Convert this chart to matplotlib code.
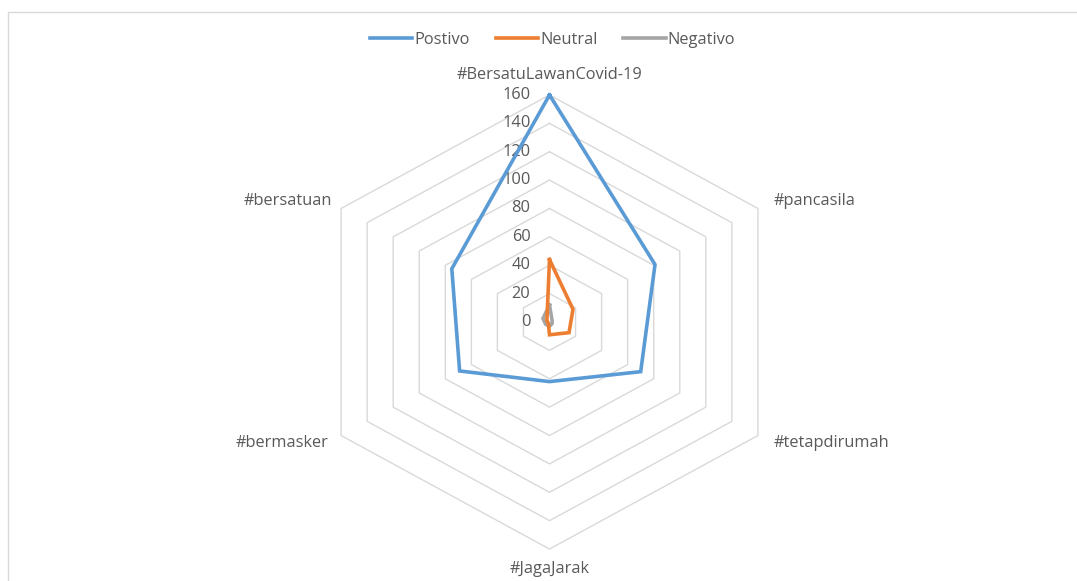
import numpy as np
import matplotlib
matplotlib.use("Agg")
import matplotlib.pyplot as plt
from matplotlib.patches import Rectangle
from matplotlib.lines import Line2D

plt.rcParams["font.family"] = ["Open Sans", "DejaVu Sans"]

# ── data ─────────────────────────────────────────────────────────────────────
categories = ["#BersatuLawanCovid-19", "#pancasila", "#tetapdirumah",
              "#JagaJarak", "#bermasker", "#bersatuan"]
postivo  = [160, 81, 70, 42, 69, 75]
neutral  = [44, 18, 15, 9, 1, 2]
negativo = [12, 2, 2, 3, 3, 5]
series_names = ["Postivo", "Neutral", "Negativo"]
ticks = [0, 20, 40, 60, 80, 100, 120, 140, 160]

BLUE   = "#5B9BD5"
ORANGE = "#ED7D31"
GRAY   = "#A5A5A5"
GRID   = "#D9D9D9"
TXT    = "#595959"
FS     = 11.8

SX = 1.06          # the original picture is stretched a bit horizontally
PX = 1.419         # pixels per data unit

n = len(categories)
theta = np.pi / 2 - np.arange(n) * 2 * np.pi / n


def xy(vals):
    r = np.asarray(vals, float)
    x = r * np.cos(theta) * SX
    y = r * np.sin(theta)
    return np.append(x, x[0]), np.append(y, y[0])


fig = plt.figure(figsize=(10.77, 5.81), dpi=100)
ax = fig.add_axes([0, 0, 1, 1])
cx, cy = 549.5, 322
ax.set_xlim(-cx / PX, (1077 - cx) / PX)
ax.set_ylim(-(581 - cy) / PX, cy / PX)
ax.axis("off")

# chart border (cropped at right and bottom)
fig.patches.append(Rectangle((8 / 1077, -0.1), 1.2, 1 - 12 / 581 + 0.1,
                             transform=fig.transFigure, fill=False,
                             edgecolor="#D9D9D9", lw=1))

# hexagon grid rings
for t in ticks[1:]:
    gx, gy = xy([t] * n)
    ax.plot(gx, gy, color=GRID, lw=1, zorder=1)

# radial tick labels
for t in ticks:
    ax.text(-19 / PX, t, str(t), ha="right", va="center",
            fontsize=FS, color=TXT)

# series
for vals, col in [(negativo, GRAY), (neutral, ORANGE), (postivo, BLUE)]:
    px, py = xy(vals)
    ax.plot(px, py, color=col, lw=2.6, solid_joinstyle="miter", zorder=3)

# category labels
rmax = 160
lab_pos = [
    (0, rmax + 14, "center"),
    (rmax * 0.866 * SX + 11, rmax * 0.5 + 5, "left"),
    (rmax * 0.866 * SX + 11, -rmax * 0.5 - 5, "left"),
    (0, -rmax - 14, "center"),
    (-rmax * 0.866 * SX - 9, -rmax * 0.5 - 5, "right"),
    (-rmax * 0.866 * SX - 6, rmax * 0.5 + 5, "right"),
]
for cat, (lx, ly, ha) in zip(categories, lab_pos):
    ax.text(lx, ly, cat, ha=ha, va="center", fontsize=FS, color=TXT)

handles = [Line2D([], [], color=c, lw=2.6) for c in (BLUE, ORANGE, GRAY)]
fig.legend(handles, series_names, loc="center", bbox_to_anchor=(0.513, 0.932),
           ncol=3, frameon=False, fontsize=FS, handlelength=2.6,
           handletextpad=0.1, columnspacing=1.6, labelcolor=TXT)

fig.savefig("out.png", dpi=100)
